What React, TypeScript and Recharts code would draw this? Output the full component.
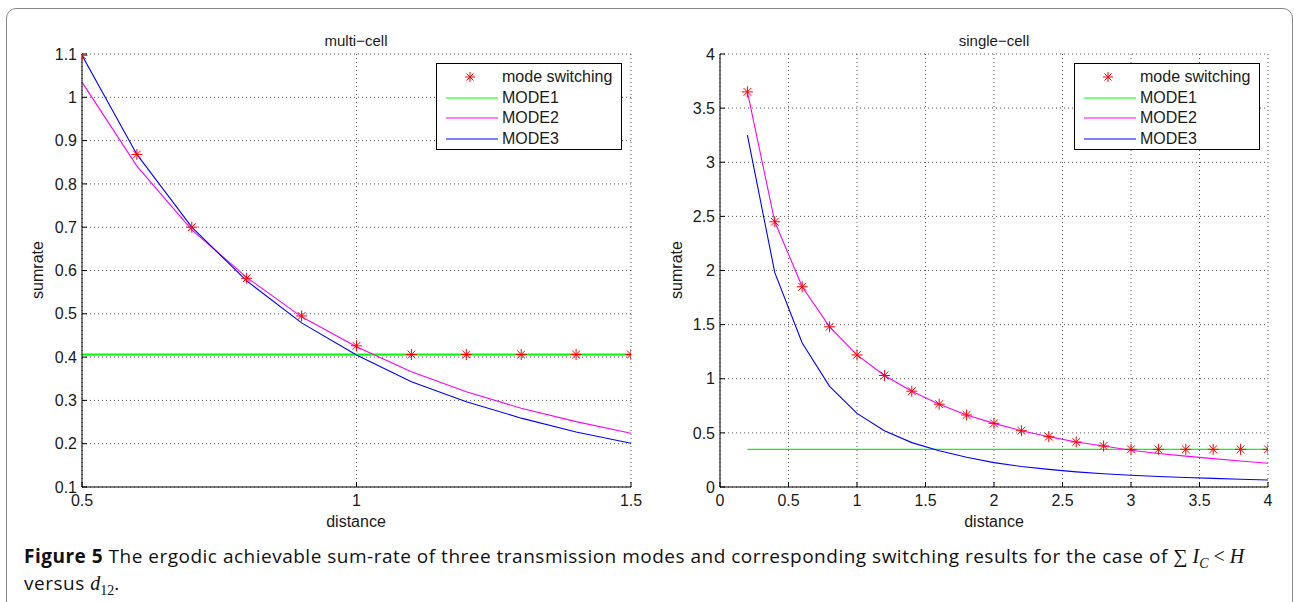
import { LineChart, Line, XAxis, YAxis, CartesianGrid } from "recharts"

// multi-cell panel: distance 0.5 .. 1.5
const multiDistance = [0.5, 0.6, 0.7, 0.8, 0.9, 1.0, 1.1, 1.2, 1.3, 1.4, 1.5]
const multiSwitching = [1.097, 0.868, 0.7, 0.582, 0.495, 0.426, 0.406, 0.406, 0.406, 0.406, 0.406]
const multiMode1 = [0.406, 0.406, 0.406, 0.406, 0.406, 0.406, 0.406, 0.406, 0.406, 0.406, 0.406]
const multiMode2 = [1.035, 0.841, 0.694, 0.584, 0.493, 0.424, 0.366, 0.32, 0.282, 0.251, 0.224]
const multiMode3 = [1.097, 0.868, 0.7, 0.576, 0.479, 0.405, 0.343, 0.297, 0.259, 0.227, 0.201]
const multiXTicks = [0.5, 1, 1.5]
const multiYTicks = [0.1, 0.2, 0.3, 0.4, 0.5, 0.6, 0.7, 0.8, 0.9, 1, 1.1]

// single-cell panel: distance 0.2 .. 4
const singleDistance = [0.2, 0.4, 0.6, 0.8, 1.0, 1.2, 1.4, 1.6, 1.8, 2.0, 2.2, 2.4, 2.6, 2.8, 3.0, 3.2, 3.4, 3.6, 3.8, 4.0]
const singleSwitching = [3.65, 2.45, 1.85, 1.48, 1.22, 1.03, 0.885, 0.765, 0.665, 0.588, 0.52, 0.465, 0.416, 0.379, 0.348, 0.348, 0.348, 0.348, 0.348, 0.348]
const singleMode1 = [0.348, 0.348, 0.348, 0.348, 0.348, 0.348, 0.348, 0.348, 0.348, 0.348, 0.348, 0.348, 0.348, 0.348, 0.348, 0.348, 0.348, 0.348, 0.348, 0.348]
const singleMode2 = [3.65, 2.45, 1.85, 1.48, 1.22, 1.03, 0.885, 0.765, 0.665, 0.588, 0.52, 0.465, 0.416, 0.379, 0.34, 0.31, 0.285, 0.262, 0.24, 0.22]
const singleMode3 = [3.25, 1.98, 1.33, 0.93, 0.68, 0.52, 0.41, 0.335, 0.275, 0.225, 0.19, 0.163, 0.14, 0.122, 0.108, 0.097, 0.088, 0.08, 0.072, 0.065]
const singleTicks = [0, 0.5, 1, 1.5, 2, 2.5, 3, 3.5, 4]

const seriesNames = ["mode switching", "MODE1", "MODE2", "MODE3"]
const seriesColors = ["#ff0000", "#00ff00", "#ff00ff", "#0000ff"]

const FONT = "'Liberation Sans', Arial, Helvetica, sans-serif"
const TICK = { fontSize: 16, fill: "#1a1a1a", fontFamily: FONT }

const buildRows = (x: number[], sw: number[], m1: number[], m2: number[], m3: number[]) =>
  x.map((d, i) => ({ d, sw: sw[i], m1: m1[i], m2: m2[i], m3: m3[i] }))

const multiData = buildRows(multiDistance, multiSwitching, multiMode1, multiMode2, multiMode3)
const singleData = buildRows(singleDistance, singleSwitching, singleMode1, singleMode2, singleMode3)

// MATLAB '*' marker
function Star({ cx, cy, r = 5.5 }: { cx: number; cy: number; r?: number }) {
  const d = r * 0.707
  return (
    <g stroke="#ff0000" strokeWidth={1}>
      <line x1={cx - r} y1={cy} x2={cx + r} y2={cy} />
      <line x1={cx} y1={cy - r} x2={cx} y2={cy + r} />
      <line x1={cx - d} y1={cy - d} x2={cx + d} y2={cy + d} />
      <line x1={cx - d} y1={cy + d} x2={cx + d} y2={cy - d} />
    </g>
  )
}

function LegendBox({ left, top }: { left: number; top: number }) {
  return (
    <div style={{ position: "absolute", left, top, width: 186, height: 87, border: "1px solid #000", background: "#fff", boxSizing: "border-box", fontFamily: FONT, fontSize: 16, color: "#1a1a1a" }}>
      {seriesNames.map((name, i) => (
        <div key={name} style={{ position: "absolute", left: 0, top: 3 + i * 20.6, height: 20, width: 186, display: "flex", alignItems: "center" }}>
          <svg width={64} height={20} style={{ flex: "none" }}>
            {i === 0 ? <Star cx={33} cy={10} r={5} /> : <line x1={9} y1={10} x2={61} y2={10} stroke={seriesColors[i]} strokeWidth={1.2} />}
          </svg>
          <span style={{ marginLeft: 1, lineHeight: 1 }}>{name}</span>
        </div>
      ))}
    </div>
  )
}

function Label({ x, y, text, rotate = false, size = 16 }: { x: number; y: number; text: string; rotate?: boolean; size?: number }) {
  return (
    <div style={{ position: "absolute", left: x, top: y, transform: `translate(-50%, -50%)${rotate ? " rotate(-90deg)" : ""}`, whiteSpace: "nowrap", lineHeight: 1, fontFamily: FONT, fontSize: size, color: "#1a1a1a" }}>
      {text}
    </div>
  )
}

interface PanelProps {
  data: any[]
  width: number
  margin: { top: number; right: number; bottom: number; left: number }
  xDomain: [number, number]
  xTicks: number[]
  yDomain: [number, number]
  yTicks: number[]
  mode1Width: number
}

function Panel({ data, width, margin, xDomain, xTicks, yDomain, yTicks, mode1Width }: PanelProps) {
  return (
    <LineChart width={width} height={540} data={data} margin={margin}>
      <CartesianGrid xAxisId="b" yAxisId="l" stroke="#555" strokeDasharray="1 3" />
      <XAxis xAxisId="b" dataKey="d" type="number" domain={xDomain} ticks={xTicks} allowDataOverflow height={30}
        axisLine={{ stroke: "#000" }} tickLine={{ stroke: "#000" }} tickSize={-5} tickMargin={13} tick={TICK} interval={0} />
      <XAxis xAxisId="t" orientation="top" dataKey="d" type="number" domain={xDomain} ticks={xTicks} allowDataOverflow height={0}
        axisLine={{ stroke: "#000" }} tickLine={{ stroke: "#000" }} tickSize={-5} tick={false} interval={0} />
      <YAxis yAxisId="l" type="number" domain={yDomain} ticks={yTicks} allowDataOverflow width={60}
        axisLine={{ stroke: "#000" }} tickLine={{ stroke: "#000" }} tickSize={-5} tickMargin={10} tick={TICK} interval={0} />
      <YAxis yAxisId="r" orientation="right" type="number" domain={yDomain} ticks={yTicks} allowDataOverflow width={0}
        axisLine={{ stroke: "#000" }} tickLine={{ stroke: "#000" }} tickSize={-5} tick={false} interval={0} />
      <Line xAxisId="b" yAxisId="l" dataKey="m1" name={seriesNames[1]} stroke={seriesColors[1]} strokeWidth={mode1Width} dot={false} isAnimationActive={false} />
      <Line xAxisId="b" yAxisId="l" dataKey="m2" name={seriesNames[2]} stroke={seriesColors[2]} strokeWidth={1.1} dot={false} isAnimationActive={false} />
      <Line xAxisId="b" yAxisId="l" dataKey="m3" name={seriesNames[3]} stroke={seriesColors[3]} strokeWidth={1.1} dot={false} isAnimationActive={false} />
      <Line xAxisId="b" yAxisId="l" dataKey="sw" name={seriesNames[0]} stroke="none" isAnimationActive={false}
        dot={(p: any) => <Star key={`s-${p.index}`} cx={p.cx} cy={p.cy} />} activeDot={false} />
    </LineChart>
  )
}

const serif = "'Liberation Serif', 'DejaVu Serif', serif"
const captionStyle = {
  position: "absolute" as const, left: 24, width: 1262, fontFamily: "'Open Sans', 'Noto Sans', sans-serif",
  fontSize: 19, letterSpacing: 0.5, lineHeight: "22px", height: 22, color: "#111", whiteSpace: "nowrap" as const,
}

export default function App() {
  return (
    <div style={{ position: "absolute", left: 0, top: 0, width: 1294, height: 602, background: "#fff", overflow: "hidden" }}>
      <div style={{ position: "absolute", left: 6, top: 8, width: 1287, height: 640, border: "1.5px solid #8a8a8a", borderRadius: 10, boxSizing: "border-box" }} />

      <div style={{ position: "absolute", left: 0, top: 0 }}>
        <Panel data={multiData} width={660} margin={{ top: 54, right: 29, bottom: 23, left: 22 }}
          xDomain={[0.5, 1.5]} xTicks={multiXTicks} yDomain={[0.1, 1.1]} yTicks={multiYTicks} mode1Width={2} />
      </div>
      <div style={{ position: "absolute", left: 640, top: 0 }}>
        <Panel data={singleData} width={654} margin={{ top: 54, right: 26, bottom: 23, left: 20 }}
          xDomain={[0, 4]} xTicks={singleTicks} yDomain={[0, 4]} yTicks={singleTicks} mode1Width={1.2} />
      </div>

      <LegendBox left={436} top={63} />
      <LegendBox left={1074} top={63} />

      <Label x={356} y={40} text="multi−cell" size={15} />
      <Label x={994} y={40} text="single−cell" size={15} />
      <Label x={356} y={522} text="distance" />
      <Label x={994} y={522} text="distance" />
      <Label x={38} y={270} text="sumrate" rotate />
      <Label x={677} y={270} text="sumrate" rotate />

      <div style={{ ...captionStyle, top: 545 }}>
        <b>Figure 5</b> The ergodic achievable sum-rate of three transmission modes and corresponding switching results for the case of{" "}
        <span style={{ fontFamily: serif, fontSize: 20, letterSpacing: 0 }}>
          ∑ <i>I</i><sub style={{ fontSize: 14, lineHeight: 0 }}><i>C</i></sub> &lt; <i>H</i>
        </span>
      </div>
      <div style={{ ...captionStyle, top: 572 }}>
        versus <span style={{ fontFamily: serif, fontSize: 20, letterSpacing: 0 }}><i>d</i><sub style={{ fontSize: 14, lineHeight: 0 }}>12</sub></span>.
      </div>
    </div>
  )
}
